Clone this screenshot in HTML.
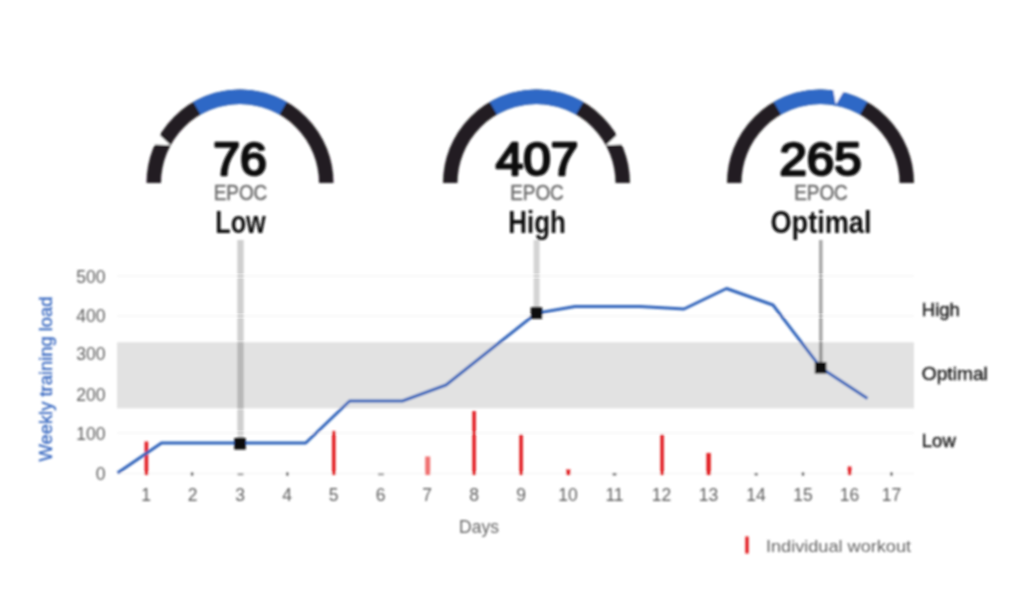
<!DOCTYPE html>
<html><head><meta charset="utf-8">
<style>
html,body{margin:0;padding:0;background:#fff;}
body{width:1024px;height:614px;overflow:hidden;font-family:"Liberation Sans",sans-serif;}
svg{display:block;}
text{font-family:"Liberation Sans",sans-serif;}
</style></head><body>
<svg width="1024" height="614" viewBox="0 0 1024 614">
<defs><filter id="b" x="-5%" y="-5%" width="110%" height="110%"><feGaussianBlur stdDeviation="1.15"/></filter></defs>
<rect width="1024" height="614" fill="#fff"/>
<g filter="url(#b)">
<!-- gridlines -->
<g stroke="#f6f6f6" stroke-width="1.5">
<line x1="117" x2="914" y1="276" y2="276"/><line x1="117" x2="914" y1="316" y2="316"/>
<line x1="117" x2="914" y1="433" y2="433"/><line x1="117" x2="914" y1="473.5" y2="473.5"/>
</g>
<!-- band -->
<rect x="117" y="342.3" width="797" height="66" fill="#e2e2e2"/>
<!-- pointer lines -->
<rect x="237.3" y="240" width="6.4" height="204" fill="#000" fill-opacity="0.19"/>
<rect x="533.6" y="240" width="6" height="73" fill="#000" fill-opacity="0.17"/>
<rect x="819" y="240" width="3.6" height="127" fill="#000" fill-opacity="0.34"/>
<!-- red bars -->
<g fill="#e21e22">
<rect x="144.6" y="441.5" width="3.6" height="33.5"/>
<rect x="332" y="431" width="3.6" height="44"/>
<rect x="425.2" y="456.5" width="5" height="18.5" fill="#f07272"/>
<rect x="472.3" y="411" width="3.6" height="64"/>
<rect x="519.3" y="434.5" width="3.6" height="40.5"/>
<rect x="566.2" y="469.5" width="4.2" height="5.5"/>
<rect x="660.3" y="434.5" width="3.6" height="40.5"/>
<rect x="706.4" y="453" width="4.4" height="22"/>
<rect x="847.8" y="466.5" width="3.6" height="8.5"/>
</g>
<!-- tick dots -->
<g fill="#555">
<rect x="190.8" y="472.5" width="2.6" height="3"/><rect x="237.5" y="473.3" width="6" height="2" fill="#999"/><rect x="286" y="472.5" width="2.6" height="3"/>
<rect x="378" y="473.3" width="6" height="2" fill="#999"/><rect x="612.5" y="473" width="4" height="2.4" fill="#777"/>
<rect x="754.5" y="473" width="3.4" height="2.4" fill="#777"/><rect x="801.7" y="472.5" width="2.6" height="3"/><rect x="890.2" y="472.5" width="2.6" height="3"/>
</g>
<!-- line -->
<polyline fill="none" stroke="#2e62ba" stroke-width="3" stroke-linejoin="round" points="117.5,473 161.5,443 305.7,443 349.6,401 402.4,401 446,385 536.4,313.2 575,306.5 640,306.5 684,309 726.5,288.5 773,305 820.7,367.7 867.5,398.5"/>
<!-- markers -->
<g fill="#111"><rect x="234.2" y="438" width="11.6" height="11.6"/><rect x="530.7" y="307.3" width="11.6" height="11.6"/><rect x="814.8" y="362" width="11.6" height="11.6"/></g>
<!-- y labels -->
<g font-size="17.5" fill="#5e5e5e" text-anchor="end">
<text x="105.5" y="282.5">500</text><text x="105.5" y="322">400</text><text x="105.5" y="360">300</text>
<text x="105.5" y="400.5">200</text><text x="105.5" y="439.5">100</text><text x="105.5" y="479.5">0</text>
</g>
<!-- x labels -->
<g font-size="17.5" fill="#5e5e5e" text-anchor="middle">
<text x="146" y="501">1</text><text x="192.5" y="501">2</text><text x="240" y="501">3</text><text x="287" y="501">4</text>
<text x="333.5" y="501">5</text><text x="380.5" y="501">6</text><text x="427" y="501">7</text><text x="474" y="501">8</text>
<text x="521" y="501">9</text><text x="568" y="501">10</text><text x="614.5" y="501">11</text><text x="661.5" y="501">12</text>
<text x="708.5" y="501">13</text><text x="756" y="501">14</text><text x="803" y="501">15</text><text x="849.5" y="501">16</text><text x="891.5" y="501">17</text>
</g>
<text x="479" y="533" font-size="17.5" fill="#666" text-anchor="middle">Days</text>
<text transform="translate(51.5,379) rotate(-90)" font-size="18" fill="#3767c0" stroke="#3767c0" stroke-width="0.3" text-anchor="middle" textLength="165" lengthAdjust="spacingAndGlyphs">Weekly training load</text>
<!-- right labels -->
<g font-size="18" fill="#222" stroke="#222" stroke-width="0.45">
<text x="921.8" y="316" textLength="38" lengthAdjust="spacingAndGlyphs">High</text>
<text x="921.8" y="380" textLength="66" lengthAdjust="spacingAndGlyphs">Optimal</text>
<text x="921.8" y="447" textLength="34" lengthAdjust="spacingAndGlyphs">Low</text>
</g>
<!-- legend -->
<rect x="745.3" y="536.5" width="3.4" height="17" fill="#e21e22"/>
<text x="766" y="551.5" font-size="17" fill="#666" textLength="145" lengthAdjust="spacingAndGlyphs">Individual workout</text>

<!-- gauges -->
<g transform="translate(240,183)">
<path d="M -86.25 0 A 86.25 86.25 0 0 1 86.25 0" fill="none" stroke="#231f20" stroke-width="14.5"/>
<path d="M -43.125 -74.7 A 86.25 86.25 0 0 1 43.125 -74.7" fill="none" stroke="#2e67c6" stroke-width="14.5"/>
<polygon points="-69.4,-37.8 -86.8,-38.6 -81.4,-48.9" fill="#fff"/>
</g>
<g transform="translate(536.5,183)">
<path d="M -86.25 0 A 86.25 86.25 0 0 1 86.25 0" fill="none" stroke="#231f20" stroke-width="14.5"/>
<path d="M -43.125 -74.7 A 86.25 86.25 0 0 1 43.125 -74.7" fill="none" stroke="#2e67c6" stroke-width="14.5"/>
<polygon points="69.4,-37.8 86.8,-38.6 81.4,-48.9" fill="#fff"/>
</g>
<g transform="translate(820.5,183)">
<path d="M -86.25 0 A 86.25 86.25 0 0 1 86.25 0" fill="none" stroke="#231f20" stroke-width="14.5"/>
<path d="M -43.125 -74.7 A 86.25 86.25 0 0 1 43.125 -74.7" fill="none" stroke="#2e67c6" stroke-width="14.5"/>
<polygon points="15.4,-78.5 12.4,-95.2 23.8,-92.8" fill="#fff"/>
</g>
<!-- gauge texts -->
<g font-size="46.5" fill="#111" stroke="#111" stroke-width="2.5" stroke-linejoin="round" text-anchor="middle">
<text x="240" y="175" textLength="53.5" lengthAdjust="spacingAndGlyphs">76</text>
<text x="537" y="175" textLength="82.5" lengthAdjust="spacingAndGlyphs">407</text>
<text x="820.5" y="175" textLength="82" lengthAdjust="spacingAndGlyphs">265</text>
</g>
<g font-size="22" fill="#707070" stroke="#707070" stroke-width="0.6" text-anchor="middle">
<text x="240.5" y="199.5" textLength="53.5" lengthAdjust="spacingAndGlyphs">EPOC</text>
<text x="537" y="199.5" textLength="53.5" lengthAdjust="spacingAndGlyphs">EPOC</text>
<text x="821" y="199.5" textLength="53.5" lengthAdjust="spacingAndGlyphs">EPOC</text>
</g>
<g font-size="30.5" font-weight="bold" fill="#111" text-anchor="middle">
<text x="240.5" y="232.5" textLength="50.5" lengthAdjust="spacingAndGlyphs">Low</text>
<text x="537" y="232.5" textLength="57.5" lengthAdjust="spacingAndGlyphs">High</text>
<text x="821" y="232.5" textLength="101" lengthAdjust="spacingAndGlyphs">Optimal</text>
</g>
</g>
</svg>
</body></html>
